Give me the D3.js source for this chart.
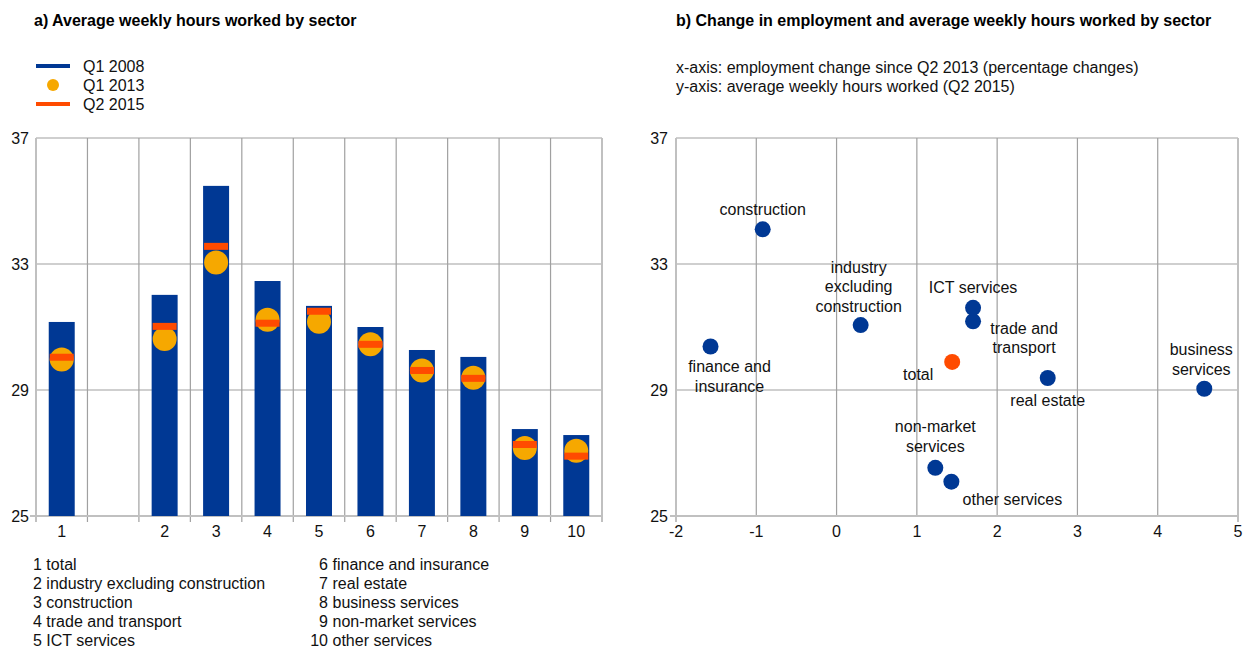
<!DOCTYPE html>
<html><head><meta charset="utf-8">
<script src="https://cdn.jsdelivr.net/npm/d3@7"></script>
<style>
body{margin:0;background:#fff;}
svg{font-family:"Liberation Sans",Arial,sans-serif;}
</style></head>
<body><svg id="c" width="1243" height="649"></svg>
<script>
// ---- data ----
const barSlots = ["1","","2","3","4","5","6","7","8","9","10"];
const barCats = ["1","2","3","4","5","6","7","8","9","10"];
const q12008 = [31.16,32.02,35.48,32.46,31.67,31.0,30.27,30.05,27.76,27.57];
const q12013 = [29.97,30.62,33.05,31.23,31.17,30.45,29.62,29.39,27.16,27.07];
const q22015 = [30.04,31.02,33.56,31.12,31.5,30.45,29.62,29.37,27.27,26.9];
const sectorNames = ["total","industry excluding construction","construction","trade and transport","ICT services","finance and insurance","real estate","business services","non-market services","other services"];
const yTicks = [25,29,33,37];
const xTicksB = [-2,-1,0,1,2,3,4,5];
const scatterNames = [["total"],["industry","excluding","construction"],["construction"],["trade and","transport"],["ICT services"],["finance and","insurance"],["real estate"],["business","services"],["non-market","services"],["other services"]];
const empChange = [1.44,0.30,-0.92,1.70,1.70,-1.57,2.63,4.58,1.23,1.43];
const hoursQ22015 = [29.89,31.06,34.10,31.18,31.61,30.38,29.38,29.04,26.53,26.09];

// ---- styles / layout ----
const BLUE="#003894", YEL="#f6a800", ORA="#ff4b00", GRID="#a0a0a0", AX="#c0c0c0";
const FS=16;
const svg=d3.select("#c");
const yTop=138, yBot=516;
const labelOffsets=[[-34,12],[-2,-58],[0,-20],[51,7],[0,-20],[19,20],[0,22],[-3,-39],[0,-41],[61,18]];

// titles
svg.append("text").attr("x",34).attr("y",26).attr("font-size",16).attr("font-weight","bold").text("a) Average weekly hours worked by sector");
svg.append("text").attr("x",676).attr("y",26).attr("font-size",16).attr("font-weight","bold").text("b) Change in employment and average weekly hours worked by sector");

// legend a
const leg=[{t:"Q1 2008",k:"line",c:BLUE},{t:"Q1 2013",k:"dot",c:YEL},{t:"Q2 2015",k:"line",c:ORA}];
leg.forEach((l,i)=>{
  const yy=66+i*19;
  if(l.k==="line") svg.append("rect").attr("x",36).attr("y",yy-2).attr("width",34).attr("height",4).attr("fill",l.c);
  else svg.append("circle").attr("cx",53).attr("cy",yy).attr("r",6).attr("fill",l.c);
  svg.append("text").attr("x",83).attr("y",yy).attr("dy","0.35em").attr("font-size",FS).attr("fill","#111").text(l.t);
});
// subtitle b
svg.append("text").attr("x",676).attr("y",67).attr("dy","0.35em").attr("font-size",FS).attr("fill","#111").text("x-axis: employment change since Q2 2013 (percentage changes)");
svg.append("text").attr("x",676).attr("y",86).attr("dy","0.35em").attr("font-size",FS).attr("fill","#111").text("y-axis: average weekly hours worked (Q2 2015)");

// ---- chart a ----
const xa=d3.scaleBand().domain(barSlots).range([36,602]).paddingInner(0.495).paddingOuter(0.2475);
const y=d3.scaleLinear().domain([25,37]).range([yBot,yTop]);
const step=xa.step();
const ga=svg.append("g");
ga.selectAll(".hg").data(yTicks.filter(d=>d>25)).join("line")
  .attr("x1",36).attr("x2",602).attr("y1",d=>y(d)).attr("y2",d=>y(d)).attr("stroke",GRID).attr("stroke-width",1.2);
const bounds=barSlots.slice(1).map((d,i)=>36+step*(i+1));
ga.selectAll(".vg").data(bounds).join("line")
  .attr("x1",d=>d).attr("x2",d=>d).attr("y1",yTop).attr("y2",yBot+6).attr("stroke",GRID).attr("stroke-width",1.2);
ga.append("line").attr("x1",602).attr("x2",602).attr("y1",yTop).attr("y2",yBot+6).attr("stroke",AX).attr("stroke-width",2);
ga.append("line").attr("x1",36).attr("x2",36).attr("y1",yTop).attr("y2",yBot+6).attr("stroke",AX).attr("stroke-width",2);
ga.append("line").attr("x1",30).attr("x2",602).attr("y1",yBot).attr("y2",yBot).attr("stroke",AX).attr("stroke-width",2);
ga.selectAll(".yt").data(yTicks).join("text").attr("x",29).attr("y",d=>y(d)).attr("dy","0.35em").attr("text-anchor","end").attr("font-size",FS).attr("fill","#111").text(d=>d);
ga.selectAll(".xt").data(barSlots.filter(d=>d)).join("text").attr("x",d=>xa(d)+xa.bandwidth()/2).attr("y",531).attr("dy","0.35em").attr("text-anchor","middle").attr("font-size",FS).attr("fill","#111").text(d=>d);
ga.selectAll(".bar").data(barCats).join("rect")
  .attr("x",d=>xa(d)).attr("width",xa.bandwidth()).attr("y",(d,i)=>y(q12008[i])).attr("height",(d,i)=>yBot-y(q12008[i])).attr("fill",BLUE);
ga.selectAll(".dot").data(barCats).join("circle")
  .attr("cx",d=>xa(d)+xa.bandwidth()/2).attr("cy",(d,i)=>y(q12013[i])).attr("r",12).attr("fill",YEL);
ga.selectAll(".mk").data(barCats).join("rect")
  .attr("x",d=>xa(d)+xa.bandwidth()/2-12).attr("width",24).attr("y",(d,i)=>y(q22015[i])-3.5).attr("height",7).attr("fill",ORA);

// category legend
sectorNames.forEach((n,i)=>{
  const col=i<5?0:1, row=i%5;
  const t=svg.append("text").attr("y",564+row*19).attr("dy","0.35em").attr("font-size",FS).attr("fill","#111");
  if(col===0){ t.attr("x",33).text((i+1)+" "+n); }
  else { t.attr("x",328).attr("text-anchor","end").text(String(i+1));
    svg.append("text").attr("x",332.5).attr("y",564+row*19).attr("dy","0.35em").attr("font-size",FS).attr("fill","#111").text(n); }
});

// ---- chart b ----
const xb=d3.scaleLinear().domain([-2,5]).range([676,1238]);
const gb=svg.append("g");
gb.selectAll(".hg").data(yTicks.filter(d=>d>25)).join("line")
  .attr("x1",676).attr("x2",1238).attr("y1",d=>y(d)).attr("y2",d=>y(d)).attr("stroke",GRID).attr("stroke-width",1.2);
gb.selectAll(".vg").data(xTicksB.filter(d=>d>-2&&d<5)).join("line")
  .attr("x1",d=>xb(d)).attr("x2",d=>xb(d)).attr("y1",yTop).attr("y2",yBot).attr("stroke",GRID).attr("stroke-width",1.2);
gb.append("line").attr("x1",1238).attr("x2",1238).attr("y1",yTop).attr("y2",yBot+6).attr("stroke",AX).attr("stroke-width",2);
gb.append("line").attr("x1",676).attr("x2",676).attr("y1",yTop).attr("y2",yBot+6).attr("stroke",AX).attr("stroke-width",2);
gb.append("line").attr("x1",670).attr("x2",1238).attr("y1",yBot).attr("y2",yBot).attr("stroke",AX).attr("stroke-width",2);
gb.selectAll(".yt").data(yTicks).join("text").attr("x",668).attr("y",d=>y(d)).attr("dy","0.35em").attr("text-anchor","end").attr("font-size",FS).attr("fill","#111").text(d=>d);
gb.selectAll(".xt").data(xTicksB).join("text").attr("x",d=>xb(d)).attr("y",531).attr("dy","0.35em").attr("text-anchor","middle").attr("font-size",FS).attr("fill","#111").text(d=>d);
gb.selectAll(".pt").data(empChange).join("circle")
  .attr("cx",d=>xb(d)).attr("cy",(d,i)=>y(hoursQ22015[i])).attr("r",8).attr("fill",(d,i)=>i===0?ORA:BLUE);
scatterNames.forEach((lines,i)=>{
  const px=xb(empChange[i]), py=y(hoursQ22015[i]);
  const [ox,oy]=labelOffsets[i];
  lines.forEach((ln,j)=>{
    gb.append("text").attr("x",px+ox).attr("y",py+oy+j*19.5).attr("dy","0.35em").attr("text-anchor","middle").attr("font-size",FS).attr("fill","#111").text(ln);
  });
});
</script></body></html>
